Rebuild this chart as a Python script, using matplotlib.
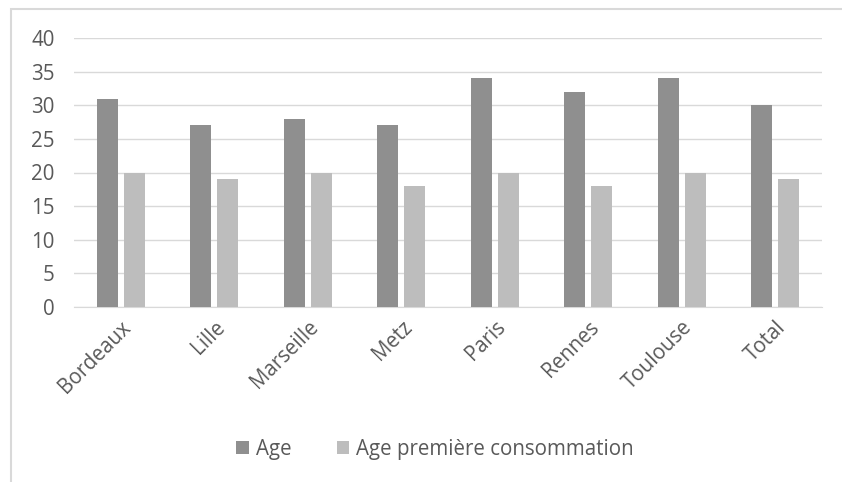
import matplotlib.pyplot as plt
import numpy as np
from matplotlib.patches import Rectangle

villes = ["Bordeaux", "Lille", "Marseille", "Metz", "Paris", "Rennes",
          "Toulouse", "Total"]
age = [31, 27, 28, 27, 34, 32, 34, 30]
age_premiere = [20, 19, 20, 18, 20, 18, 20, 19]

TXT = "#595959"
FS = 14.8
plt.rcParams["font.family"] = ["Open Sans", "DejaVu Sans"]

fig = plt.figure(figsize=(8.42, 4.82), dpi=100)
ax = fig.add_axes([74 / 842, 1 - 307 / 482, 748 / 842, 269 / 482])

# chart frame (left and top edges only visible)
fig.patches.append(Rectangle((11 / 842, -0.1), 1.2, 1 - 9 / 482 + 0.1,
                             transform=fig.transFigure, fill=False,
                             edgecolor="#D9D9D9", linewidth=1.5))

x = np.arange(len(villes))
w = 0.225
off = 0.144
ax.bar(x - off, age, w, color="#8F8F8F", label="Age", zorder=3)
ax.bar(x + off, age_premiere, w, color="#BDBDBD",
       label="Age première consommation", zorder=3)

ax.set_xlim(-0.5, len(villes) - 0.5)
ax.set_ylim(0, 40)
ax.set_yticks(range(0, 41, 5))
ax.yaxis.grid(True, color="#D9D9D9", linewidth=1)
ax.set_axisbelow(True)
for s in ["top", "right", "left"]:
    ax.spines[s].set_visible(False)
ax.spines["bottom"].set_color("#D9D9D9")
ax.tick_params(length=0, colors=TXT, labelsize=FS)
ax.tick_params(axis="y", pad=14)
ax.set_xticks(x)
ax.set_xticklabels(villes, rotation=45, ha="right", rotation_mode="anchor")
ax.tick_params(axis="x", pad=7)

fig.legend(loc="center", bbox_to_anchor=(435 / 842, 1 - 449 / 482), ncol=2,
           frameon=False, fontsize=FS, labelcolor=TXT, handlelength=0.6,
           handleheight=0.6, handletextpad=0.35, columnspacing=2.2)

fig.savefig("out.png", dpi=100)
